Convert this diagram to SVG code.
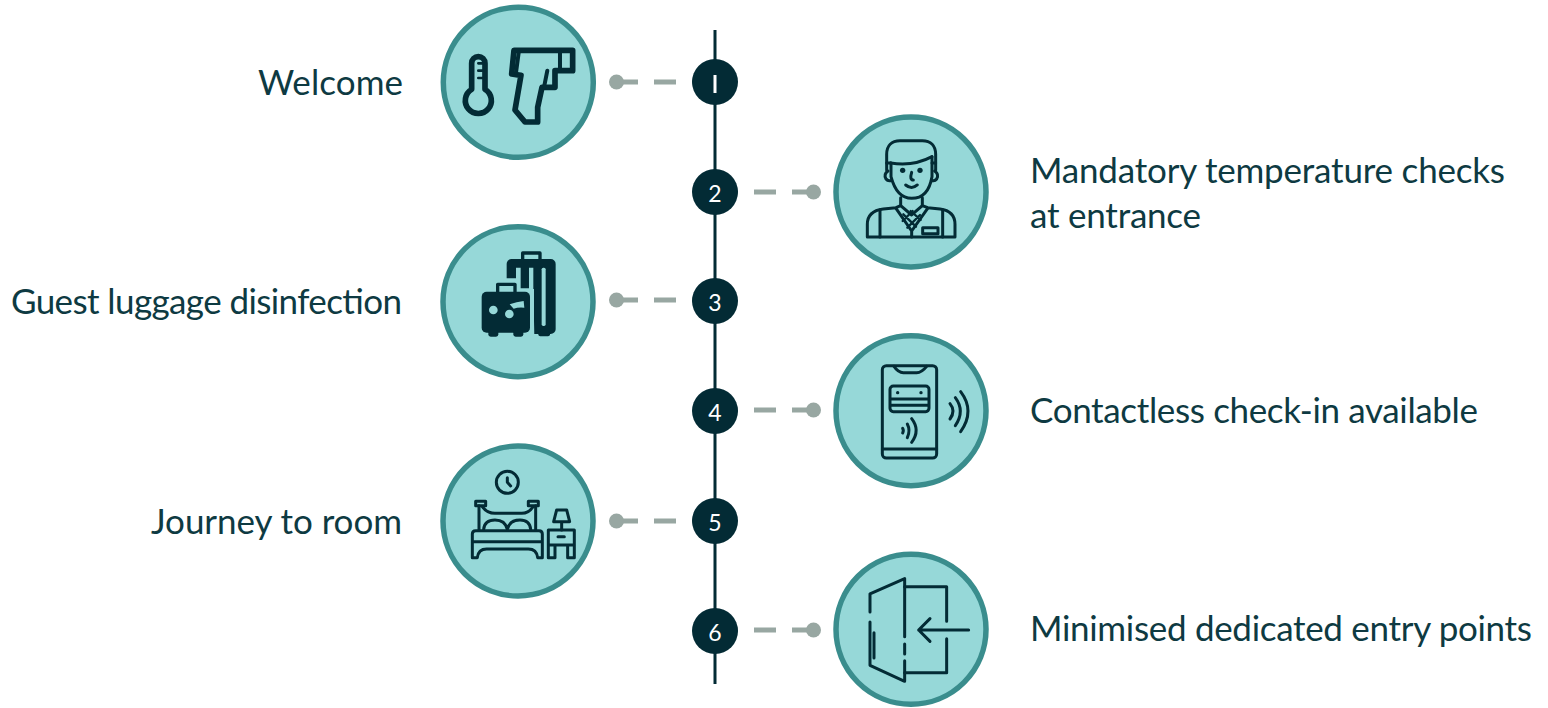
<svg xmlns="http://www.w3.org/2000/svg" width="1548" height="708" viewBox="0 0 1548 708">
<style>
.disc{fill:#96d8d8;stroke:#3a8d8d;stroke-width:5.5}
.lbl{font-family:"Lato","Noto Sans",sans-serif;font-size:35px;fill:#0e3a42}
.num{font-family:"Lato","Noto Sans",sans-serif;font-size:23px;fill:#fff;text-anchor:middle}
.dot{fill:#032b35}
.dash{stroke:#98a7a2;stroke-width:5;stroke-dasharray:22 16;fill:none}
.tip{fill:#98a7a2}
.ic{fill:none;stroke:#032b35;stroke-width:9;stroke-linecap:round;stroke-linejoin:round}
.ic .f{fill:#032b35;stroke:none}
.ic .b{fill:#96d8d8;stroke:none}
</style>
<g id="connectors">
<line x1="715" y1="30" x2="715" y2="684" stroke="#032b35" stroke-width="3"/>
<path class="dash" d="M616 82H714"/><circle class="tip" cx="616.5" cy="82" r="7.5"/>
<path class="dash" d="M814 192H716"/><circle class="tip" cx="813.5" cy="192" r="7.5"/>
<path class="dash" d="M616 300H714"/><circle class="tip" cx="616.5" cy="300" r="7.5"/>
<path class="dash" d="M814 410H716"/><circle class="tip" cx="813.5" cy="410" r="7.5"/>
<path class="dash" d="M616 521H714"/><circle class="tip" cx="616.5" cy="521" r="7.5"/>
<path class="dash" d="M814 630H716"/><circle class="tip" cx="813.5" cy="630" r="7.5"/>
</g>
<g id="step-1">
<circle class="dot" cx="715" cy="82" r="23"/><rect x="713.5" y="75" width="3" height="18" fill="#fff"/>
<circle class="disc" cx="518.3" cy="82.3" r="75"/>
<g class="ic" transform="translate(430 0) scale(.3333)" style="stroke-width:17">
<path d="M125 268V190a20 20 0 0 1 40 0V268a39 39 0 1 1-40 0z"/>
<path d="M145 190h14M145 212h14M145 234h14" style="stroke-width:8"/>
<path d="M252 151H428V212H375V262H336L323 322V366H285L255 330L273 226L245 222z"/>
<path d="M266 158L258 218M390 155V212M352 212L342 262" style="stroke-width:12"/>
</g>
<text class="lbl" x="258" y="95" textLength="145" lengthAdjust="spacing">Welcome</text>
</g>
<g id="step-2">
<circle class="dot" cx="715" cy="192" r="23"/><text class="num" x="715" y="202">2</text>
<circle class="disc" cx="911" cy="192" r="75"/>
<g class="ic" transform="translate(860 135) scale(.3333)">
<path d="M80 106V58C80 32 95 17 120 17H187C212 17 227 32 227 58V106"/>
<path d="M92 84Q160 95 216 65"/>
<path d="M80 84H92M216 84H227"/>
<path d="M93 84V125Q110 190 155 190Q205 190 216 125V65"/>
<path d="M84 108Q70 118 78 132Q84 140 95 136M224 108Q238 118 230 132Q224 140 214 136"/>
<path d="M137 150Q155 165 172 150M155 112Q148 135 160 135"/>
<circle class="f" cx="128" cy="106" r="8"/><circle class="f" cx="180" cy="106" r="8"/>
<path d="M122 188V212L108 218L70 222Q22 228 22 268V306H285V268Q285 228 240 222L203 218L187 212V188"/>
<path d="M122 212L155 240L187 212M108 220L155 288L203 220M60 224V306M248 224V306M155 288V306"/>
<path d="M128 258L158 228M142 278L180 240M182 255L152 228M168 275L130 238" style="stroke-width:7"/>
<rect x="188" y="278" width="46" height="18"/>
</g>
<text class="lbl" x="1030" y="183" textLength="475" lengthAdjust="spacing">Mandatory temperature checks</text>
<text class="lbl" x="1030" y="228" textLength="171" lengthAdjust="spacing">at entrance</text>
</g>
<g id="step-3">
<circle class="dot" cx="715" cy="301" r="23"/><text class="num" x="715" y="311">3</text>
<circle class="disc" cx="518" cy="301.7" r="75"/>
<g class="ic" transform="translate(475 245) scale(.3333)">
<path d="M143 42V24H195V42" style="stroke-width:10"/>
<rect class="f" x="95" y="42" width="147" height="225" rx="15"/>
<rect class="f" x="190" y="258" width="35" height="16" rx="6"/>
<path class="b" d="M85 100H123V68H137V130H162V68H175V135L178 272H165V132H85z"/>
<rect class="b" x="200" y="68" width="12" height="175" rx="5"/>
<rect class="b" x="85" y="132" width="92" height="150"/>
<path d="M68 140V118H120V140" style="stroke-width:10"/>
<rect class="f" x="20" y="140" width="145" height="123" rx="15"/>
<rect class="f" x="40" y="255" width="30" height="20" rx="7"/><rect class="f" x="115" y="255" width="30" height="20" rx="7"/>
<circle class="b" cx="55" cy="195" r="13"/><circle class="b" cx="103" cy="207" r="13"/>
<path class="b" d="M104 178Q125 170 146 168L148 188Q130 186 116 191Q110 185 104 178z"/>
</g>
<text class="lbl" x="11" y="314" textLength="391" lengthAdjust="spacing">Guest luggage disinfection</text>
</g>
<g id="step-4">
<circle class="dot" cx="715" cy="411" r="23"/><text class="num" x="715" y="421">4</text>
<circle class="disc" cx="911" cy="410.7" r="75"/>
<g class="ic" transform="translate(820 325) scale(.3333)">
<rect x="187" y="122" width="163" height="277" rx="12"/>
<path d="M222 124Q235 143 250 143H290Q305 143 320 124M187 372H350"/>
<rect x="210" y="183" width="117" height="77" rx="10"/>
<path d="M212 222H325M212 241H325"/>
<circle class="f" cx="233" cy="203" r="5"/><circle class="f" cx="303" cy="203" r="5"/>
<path d="M248 310Q252 316 248 324M262 297Q272 316 262 338M275 281Q302 316 275 352"/>
<path d="M390 236Q408 258 390 282M406 218Q436 258 406 302M422 200Q466 258 422 320"/>
</g>
<text class="lbl" x="1030" y="423" textLength="448" lengthAdjust="spacing">Contactless check-in available</text>
</g>
<g id="step-5">
<circle class="dot" cx="715" cy="521" r="23"/><text class="num" x="715" y="531">5</text>
<circle class="disc" cx="518" cy="521" r="75"/>
<g class="ic" transform="translate(465 465) scale(.3333)">
<circle cx="127" cy="52" r="33"/><path d="M127 38V52L137 63"/>
<path d="M32 109H62V122H32zM190 109H220V122H190z"/>
<path d="M42 122V195M212 122V195M52 125Q66 145 90 145H170Q192 145 204 125"/>
<path d="M56 193C58 172 72 165 90 165C110 165 122 172 127 193C132 172 145 165 165 165C182 165 195 172 197 193"/>
<path d="M22 278V207Q22 197 32 197H222Q232 197 232 207V278H218Q215 252 190 252H65Q40 252 37 278zM22 230H232"/>
<path d="M250 195H328V278H308V240H270V278H250zM250 240H328M279 215H298"/>
<path d="M290 195V170M275 135H305L314 170H266z"/>
</g>
<text class="lbl" x="151" y="534" textLength="251" lengthAdjust="spacing">Journey to room</text>
</g>
<g id="step-6">
<circle class="dot" cx="715" cy="631" r="23"/><text class="num" x="715" y="641">6</text>
<circle class="disc" cx="911" cy="629.3" r="75"/>
<g class="ic" transform="translate(820 540) scale(.3333)">
<path d="M150 216V162L254 116V290M254 312V342M254 362V424L150 376V246M162 278V354"/>
<path d="M254 140H380V244M380 296V398H254"/>
<path d="M446 270H296M330 236L296 270L330 304"/>
</g>
<text class="lbl" x="1030" y="641" textLength="502" lengthAdjust="spacing">Minimised dedicated entry points</text>
</g>
</svg>
